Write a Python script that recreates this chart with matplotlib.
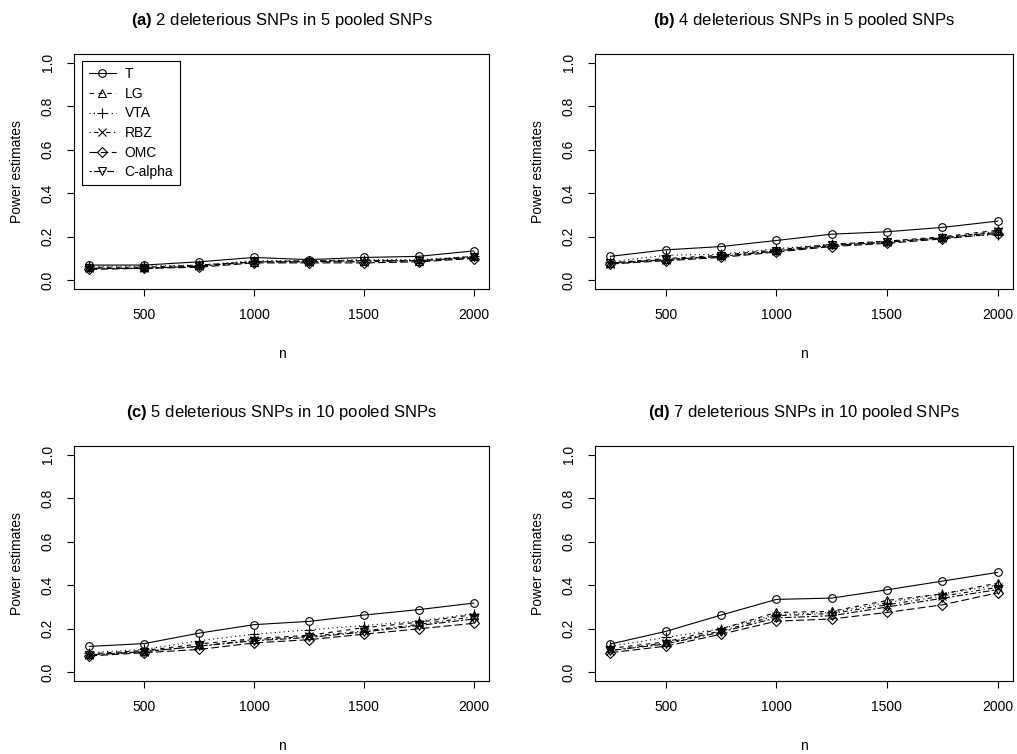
import numpy as np
import matplotlib
matplotlib.use('Agg')
import matplotlib.pyplot as plt

plt.rcParams['font.family'] = ['Liberation Sans', 'DejaVu Sans']
plt.rcParams['mathtext.fontset'] = 'custom'
plt.rcParams['mathtext.rm'] = 'Liberation Sans'
plt.rcParams['mathtext.bf'] = 'Liberation Sans:bold'

n = [250, 500, 750, 1000, 1250, 1500, 1750, 2000]
methods = ['T', 'LG', 'VTA', 'RBZ', 'OMC', 'C-alpha']
titles = [r'$\mathbf{(a)}$ 2 deleterious SNPs in 5 pooled SNPs',
          r'$\mathbf{(b)}$ 4 deleterious SNPs in 5 pooled SNPs',
          r'$\mathbf{(c)}$ 5 deleterious SNPs in 10 pooled SNPs',
          r'$\mathbf{(d)}$ 7 deleterious SNPs in 10 pooled SNPs']

# power estimates, one list per method, per panel
pa_T     = [0.070, 0.070, 0.085, 0.105, 0.095, 0.105, 0.110, 0.135]
pa_LG    = [0.060, 0.060, 0.070, 0.085, 0.090, 0.090, 0.090, 0.110]
pa_VTA   = [0.065, 0.065, 0.070, 0.090, 0.090, 0.095, 0.095, 0.110]
pa_RBZ   = [0.055, 0.055, 0.065, 0.085, 0.085, 0.085, 0.090, 0.105]
pa_OMC   = [0.050, 0.055, 0.060, 0.080, 0.080, 0.080, 0.085, 0.100]
pa_Calp  = [0.055, 0.055, 0.065, 0.085, 0.085, 0.090, 0.090, 0.105]

pb_T     = [0.110, 0.140, 0.155, 0.183, 0.212, 0.223, 0.243, 0.272]
pb_LG    = [0.080, 0.100, 0.115, 0.140, 0.165, 0.180, 0.200, 0.230]
pb_VTA   = [0.085, 0.115, 0.120, 0.145, 0.165, 0.180, 0.195, 0.210]
pb_RBZ   = [0.075, 0.095, 0.110, 0.135, 0.160, 0.175, 0.195, 0.225]
pb_OMC   = [0.075, 0.090, 0.105, 0.130, 0.155, 0.170, 0.190, 0.215]
pb_Calp  = [0.080, 0.095, 0.110, 0.135, 0.160, 0.175, 0.195, 0.220]

pc_T     = [0.119, 0.132, 0.180, 0.219, 0.234, 0.263, 0.288, 0.318]
pc_LG    = [0.085, 0.100, 0.130, 0.155, 0.170, 0.205, 0.230, 0.265]
pc_VTA   = [0.090, 0.105, 0.145, 0.175, 0.195, 0.215, 0.235, 0.270]
pc_RBZ   = [0.080, 0.095, 0.120, 0.150, 0.165, 0.190, 0.220, 0.255]
pc_OMC   = [0.075, 0.090, 0.105, 0.135, 0.150, 0.175, 0.200, 0.225]
pc_Calp  = [0.080, 0.095, 0.120, 0.145, 0.160, 0.185, 0.215, 0.245]

pd_T     = [0.130, 0.188, 0.263, 0.335, 0.341, 0.379, 0.419, 0.459]
pd_LG    = [0.110, 0.140, 0.200, 0.275, 0.280, 0.330, 0.360, 0.410]
pd_VTA   = [0.120, 0.160, 0.200, 0.265, 0.275, 0.320, 0.360, 0.400]
pd_RBZ   = [0.100, 0.135, 0.190, 0.260, 0.270, 0.310, 0.350, 0.390]
pd_OMC   = [0.090, 0.120, 0.175, 0.235, 0.245, 0.275, 0.310, 0.365]
pd_Calp  = [0.100, 0.130, 0.185, 0.250, 0.260, 0.300, 0.340, 0.380]

panels = [[pa_T, pa_LG, pa_VTA, pa_RBZ, pa_OMC, pa_Calp],
          [pb_T, pb_LG, pb_VTA, pb_RBZ, pb_OMC, pb_Calp],
          [pc_T, pc_LG, pc_VTA, pc_RBZ, pc_OMC, pc_Calp],
          [pd_T, pd_LG, pd_VTA, pd_RBZ, pd_OMC, pd_Calp]]

# R style lty 1..6 and pch 1,2,3,4,5,6
styles = ['-', (0, (4, 4)), (0, (1, 3)), (0, (1, 3, 4, 3)), (0, (7, 3)), (0, (2, 2, 6, 2))]
marks = ['o', '^', '+', 'x', 'D', 'v']
msizes = [5.5, 6, 7.5, 6, 5, 6]

fig = plt.figure(figsize=(10.17, 7.54), dpi=100)
W, H = 1017.0, 754.0
boxes = [(74, 54, 489, 289), (595, 54, 1013, 289),
         (74, 446, 489, 681), (595, 446, 1013, 681)]

for k in range(4):
    x0, y0, x1, y1 = boxes[k]
    ax = fig.add_axes([x0 / W, 1 - y1 / H, (x1 - x0) / W, (y1 - y0) / H])
    for j in range(6):
        ax.plot(n, panels[k][j], linestyle=styles[j], color='black', lw=0.8,
                marker=marks[j], ms=msizes[j], mfc='none', mec='black', mew=0.8,
                label=methods[j])
    ax.set_xlim(180, 2070)
    ax.set_ylim(-0.04, 1.04)
    ax.set_xticks([500, 1000, 1500, 2000])
    ax.set_yticks([0.0, 0.2, 0.4, 0.6, 0.8, 1.0])
    ax.set_yticklabels(['0.0', '0.2', '0.4', '0.6', '0.8', '1.0'], rotation=90, va='center')
    ax.tick_params(direction='out', length=5, width=0.8, labelsize=10, pad=9)
    for s in ax.spines.values():
        s.set_linewidth(0.8)
    ax.set_title(titles[k], fontsize=12, pad=21)
    ax.set_xlabel('n', fontsize=10, labelpad=18)
    ax.set_ylabel('Power estimates', fontsize=10, labelpad=12)
    if k == 0:
        leg = ax.legend(loc='upper left', bbox_to_anchor=(0.02, 0.97), fontsize=10,
                        fancybox=False, edgecolor='black', framealpha=1,
                        handlelength=2.0, handletextpad=0.6, borderpad=0.45,
                        borderaxespad=0, labelspacing=0.4, numpoints=1)
        leg.get_frame().set_linewidth(0.8)

fig.savefig('out.png', dpi=100)
